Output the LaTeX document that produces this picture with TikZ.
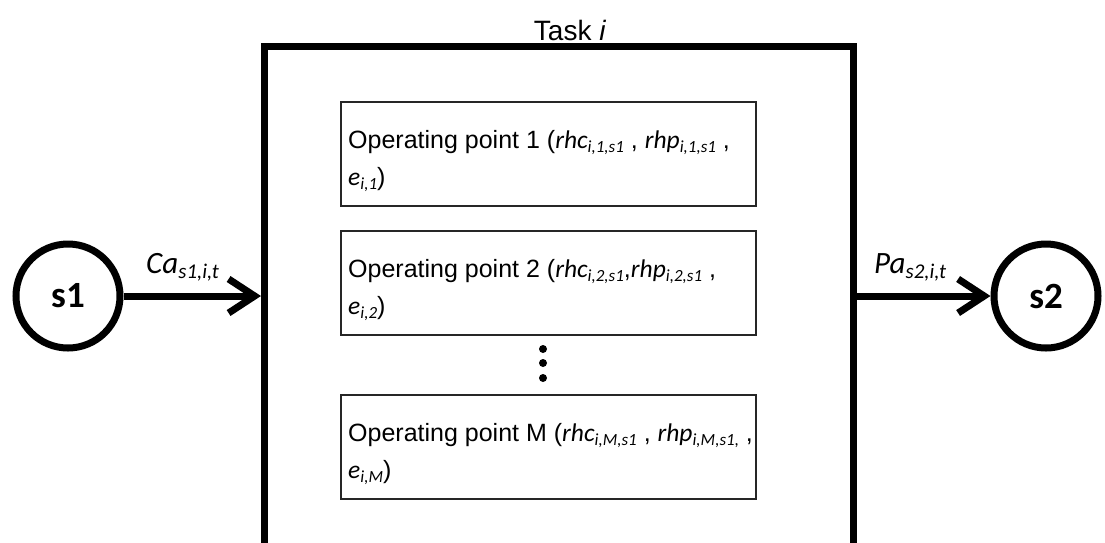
\documentclass[tikz,border=0pt]{standalone}
\usepackage{fontspec}
\setmainfont{Liberation Sans}
\newfontfamily\carl{Carlito}
\usetikzlibrary{arrows.meta}
\newcommand{\sbx}[1]{\raisebox{-4.5pt}{\fontsize{17}{17}\selectfont #1}}
\newcommand{\sbl}[1]{\raisebox{-5pt}{\fontsize{21}{21}\selectfont #1}}
\newcommand{\vv}[2]{{\carl\itshape\fontsize{25.5}{25.5}\selectfont #1\sbx{#2}}}
\tikzset{
  opbox/.style={draw=black!85, line width=1.6pt, minimum width=415pt, minimum height=104pt, inner sep=0pt},
  optext/.style={anchor=base west, inner sep=0pt, font=\fontsize{25}{30}\selectfont},
  state/.style={circle, draw, line width=7pt, minimum size=104pt, inner sep=0pt, font=\carl\bfseries\fontsize{37}{37}\selectfont},
  flow/.style={line width=7pt, -{Straight Barb[length=26pt,width=34pt]}},
  flowlabel/.style={anchor=base west, inner sep=0pt, font=\carl\itshape\fontsize{31}{31}\selectfont},
  dot/.style={circle, fill=black, inner sep=0pt, minimum size=8pt}
}
\begin{document}
\begin{tikzpicture}[x=1pt,y=-1pt]
\clip (0,0) rectangle (1105,542);
\fill[white] (0,0) rectangle (1105,542);
% task frame (open at the bottom)
\draw[line width=7pt] (264.5,560) -- (264.5,46) -- (853.5,46) -- (853.5,560);
\node[anchor=base, inner sep=0pt, font=\fontsize{28}{28}\selectfont] (task) at (570,40) {Task \textit{i}};
\coordinate (fl) at (261,296);
\coordinate (fr) at (853.5,296);
% operating points
\node[opbox] (b1) at (548.5,154) {};
\node[opbox] (b2) at (548.5,283) {};
\node[opbox] (bM) at (548.5,447) {};
\node[optext] (t1a) at (348,148) {Operating point 1 (\vv{rhc}{i,1,s1} , \vv{rhp}{i,1,s1} ,};
\node[optext] (t1b) at (348,185) {\vv{e}{i,1})};
\node[optext] (t2a) at (348,277) {Operating point 2 (\vv{rhc}{i,2,s1},\vv{rhp}{i,2,s1} ,};
\node[optext] (t2b) at (348,314) {\vv{e}{i,2})};
\node[optext] (tMa) at (348,441) {Operating point M (\vv{rhc}{i,M,s1} , \vv{rhp}{i,M,s1,} ,};
\node[optext] (tMb) at (348,478) {\vv{e}{i,M})};
\node[dot] (d1) at (543,349) {};
\node[dot] (d2) at (543,363) {};
\node[dot] (d3) at (543,378) {};
% states
\node[state] (s1) at (68,296) {s1};
\node[state] (s2) at (1046,296) {s2};
\draw[flow] (s1) -- (fl);
\draw[flow] (fr) -- (s2);
\node[flowlabel] (ca) at (146,273) {Ca\sbl{s1,i,t}};
\node[flowlabel] (pa) at (874,273) {Pa\sbl{s2,i,t}};
\end{tikzpicture}
\end{document}
